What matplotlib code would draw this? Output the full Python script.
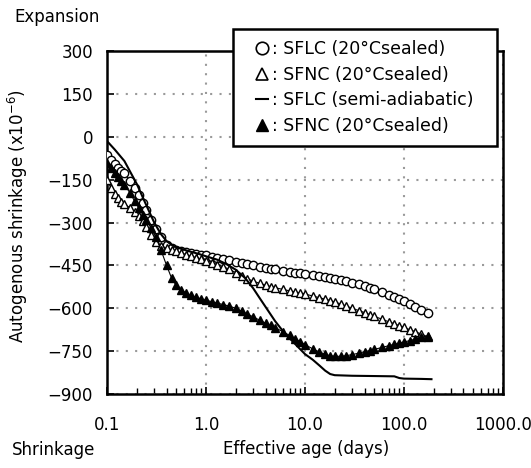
import matplotlib
matplotlib.use("Agg")
import matplotlib.pyplot as plt
from matplotlib.ticker import FixedLocator, LogLocator, NullFormatter
from matplotlib.lines import Line2D
from matplotlib.patches import Rectangle

# ========== Data ==========
age = [0.1, 0.11, 0.12, 0.13, 0.14, 0.15, 0.17, 0.19, 0.21, 0.23, 0.25, 0.28,
       0.31, 0.35, 0.4, 0.45, 0.5, 0.56, 0.63, 0.7, 0.8, 0.9, 1.0, 1.15, 1.3,
       1.5, 1.7, 2.0, 2.3, 2.6, 3.0, 3.5, 4, 4.5, 5, 6, 7, 8, 9, 10, 12, 14,
       16, 18, 20, 23, 26, 30, 35, 40, 45, 50, 60, 70, 80, 90, 100, 115, 130,
       150, 175]

sflc_sealed = [-65, -80, -95, -108, -118, -128, -155, -180, -205, -230, -255,
               -290, -322, -352, -378, -390, -396, -400, -403, -406, -409,
               -412, -415, -419, -423, -427, -431, -437, -442, -446, -450,
               -454, -458, -461, -464, -468, -472, -475, -478, -480, -484,
               -488, -491, -494, -497, -501, -505, -510, -516, -522, -528,
               -534, -543, -552, -560, -568, -575, -585, -595, -606, -618]

sfnc_sealed = [-150, -180, -200, -215, -228, -235, -248, -262, -278, -296,
               -315, -345, -368, -382, -390, -396, -401, -406, -412, -417,
               -423, -428, -433, -440, -447, -455, -463, -475, -487, -496,
               -505, -513, -519, -524, -528, -534, -539, -543, -547, -550,
               -557, -563, -568, -573, -578, -585, -592, -600, -608, -615,
               -622, -628, -638, -647, -654, -661, -667, -675, -682, -690,
               -700]

sfnc_filled = [-90, -110, -125, -140, -155, -168, -195, -225, -250, -272,
               -292, -320, -350, -395, -450, -495, -520, -535, -547, -555,
               -562, -567, -572, -577, -582, -587, -592, -600, -610, -620,
               -630, -642, -652, -660, -668, -682, -695, -707, -717, -727,
               -742, -753, -761, -766, -768, -768, -766, -762, -757, -752,
               -748, -744, -737, -731, -726, -722, -718, -713, -708, -702,
               -697]

line_age = [0.1, 0.12, 0.15, 0.2, 0.25, 0.3, 0.35, 0.4, 0.45, 0.5, 0.6, 0.7,
            0.85, 1.0, 1.3, 1.6, 2.0, 2.5, 3.0, 3.5, 4.0, 5.0, 6.0, 7.0, 8.5,
            10, 12, 14, 16, 18, 20, 30, 50, 80, 90, 100, 150, 190]
sflc_adiabatic = [-15, -45, -85, -165, -240, -300, -340, -365, -378, -386,
                  -395, -402, -410, -418, -430, -445, -465, -495, -530, -565,
                  -595, -645, -680, -705, -735, -760, -780, -800, -818, -830,
                  -834, -836, -837, -838, -844, -846, -847, -848]

x_ticks = [0.1, 1.0, 10.0, 100.0, 1000.0]
x_tick_labels = ["0.1", "1.0", "10.0", "100.0", "1000.0"]
y_ticks = [300, 150, 0, -150, -300, -450, -600, -750, -900]

legend_labels = [": SFLC (20°Csealed)", ": SFNC (20°Csealed)",
                 ": SFLC (semi-adiabatic)", ": SFNC (20°Csealed)"]

# ========== Plot ==========
plt.rcParams["font.family"] = ["DejaVu Sans"]
fig = plt.figure(figsize=(5.31, 4.68), dpi=100)
ax = fig.add_axes([0.2015, 0.158, 0.7455, 0.733])

ms = 6
ax.plot(age, sflc_sealed, color="black", lw=0.8, marker="o", ms=ms,
        mfc="white", mec="black", mew=1.0, zorder=3)
ax.plot(age, sfnc_sealed, color="black", lw=0.8, marker="^", ms=ms,
        mfc="white", mec="black", mew=1.0, zorder=3)
ax.plot(age, sfnc_filled, color="black", lw=0.8, marker="^", ms=ms,
        mfc="black", mec="black", zorder=4)
ax.plot(line_age, sflc_adiabatic, color="black", lw=1.5, zorder=5)

ax.set_xscale("log")
ax.set_xlim(0.1, 1000)
ax.set_ylim(-900, 300)

ax.xaxis.set_major_locator(FixedLocator(x_ticks))
ax.set_xticklabels(x_tick_labels)
ax.xaxis.set_minor_locator(LogLocator(base=10, subs=range(2, 10)))
ax.xaxis.set_minor_formatter(NullFormatter())
ax.set_yticks(y_ticks)

ax.tick_params(axis="both", which="major", direction="in", length=5,
               width=1.2, labelsize=12)
ax.tick_params(axis="x", which="major", pad=16)
ax.tick_params(axis="y", which="major", pad=10)
ax.tick_params(axis="x", which="minor", direction="in", length=4, width=1.0)

for s in ax.spines.values():
    s.set_linewidth(1.8)

ax.grid(True, which="major", color="#9a9a9a", linestyle=(0, (1, 3.5)),
        linewidth=1.5)

ax.set_xlabel("Effective age (days)", fontsize=12)
ax.xaxis.set_label_coords(0.502, -0.135)
ax.set_ylabel("Autogenous shrinkage (x10$^{-6}$)", fontsize=12)
ax.yaxis.set_label_coords(-0.195, 0.52)

fig.text(0.028, 0.963, "Expansion", fontsize=12, va="center", ha="left")
fig.text(0.022, 0.038, "Shrinkage", fontsize=12, va="center", ha="left")

# legend box sits over the top spine
box = Rectangle((0.318, 0.723), 0.667, 0.341, transform=ax.transAxes,
                facecolor="white", edgecolor="black", linewidth=1.8,
                clip_on=False, zorder=9)
ax.add_patch(box)

handles = [
    Line2D([], [], ls="none", marker="o", ms=9, mfc="white", mec="black", mew=1.2),
    Line2D([], [], ls="none", marker="^", ms=9, mfc="white", mec="black", mew=1.2),
    Line2D([], [], color="black", lw=1.5),
    Line2D([], [], ls="none", marker="^", ms=9, mfc="black", mec="black"),
]
leg = ax.legend(handles, legend_labels, loc="center",
                bbox_to_anchor=(0.6515, 0.8935), fontsize=12.5, frameon=False,
                handlelength=0.7, handletextpad=0.25, borderpad=0,
                labelspacing=0.45, borderaxespad=0, alignment="center")
leg.set_zorder(10)

fig.savefig("out.png", dpi=100)
